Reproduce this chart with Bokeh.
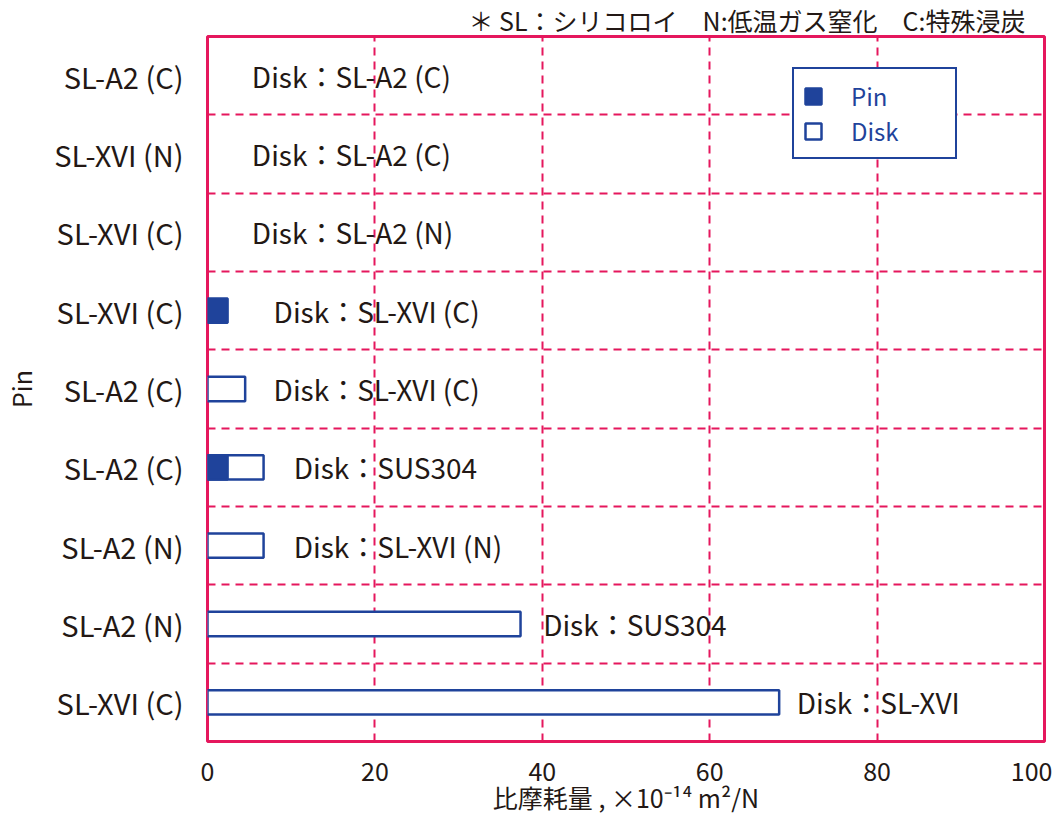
from bokeh.plotting import figure
from bokeh.models import ColumnDataSource, FixedTicker, Legend, LegendItem, Range1d
from bokeh.core.properties import value
from bokeh.embed import file_html
from bokeh.resources import INLINE

# ---- data (bottom row first) ----
pin_labels = ["SL-XVI (C)", "SL-A2 (N)", "SL-A2 (N)", "SL-A2 (C)", "SL-A2 (C)",
              "SL-XVI (C)", "SL-XVI (C)", "SL-XVI (N)", "SL-A2 (C)"]
disk_labels = ["SL-XVI", "SUS304", "SL-XVI (N)", "SUS304", "SL-XVI (C)",
               "SL-XVI (C)", "SL-A2 (N)", "SL-A2 (C)", "SL-A2 (C)"]
pin_wear = [0, 0, 0, 2.4, 0, 2.4, 0, 0, 0]
disk_wear = [68.3, 37.4, 6.7, 6.7, 4.5, 0, 0, 0, 0]
note_x = [70.4, 40.1, 10.3, 10.3, 7.9, 7.9, 5.3, 5.3, 5.3]
x_ticks = [0, 20, 40, 60, 80, 100]
note_text = "＊ SL：シリコロイ　N:低温ガス窒化　C:特殊浸炭"

FONT = "Noto Sans CJK JP"
PINK = "#e5175d"
BLUE = "#1f439b"
INK = "#231815"

W, H = 1052, 817
ML, MR, MT, MB = 206, 8, 36, 76
FW, FH = W - ML - MR, H - MT - MB

rows = list(range(len(pin_labels)))
lab_src = ColumnDataSource(dict(y=rows, lx=note_x, label=["Disk：" + d for d in disk_labels]))
disk_src = ColumnDataSource(dict(y=[r for r in rows if disk_wear[r] > 0],
                                 v=[disk_wear[r] for r in rows if disk_wear[r] > 0]))
pin_src = ColumnDataSource(dict(y=[r for r in rows if pin_wear[r] > 0],
                                v=[pin_wear[r] for r in rows if pin_wear[r] > 0]))

p = figure(width=W, height=H, x_range=Range1d(0, 100), y_range=Range1d(-0.5, 8.5),
           output_backend="svg", toolbar_location=None, title=note_text,
           min_border_left=ML, min_border_right=MR, min_border_top=MT, min_border_bottom=MB)

p.title.align = "right"
p.title.offset = 19
p.title.standoff = -3
p.title.text_font = FONT
p.title.text_font_size = "25px"
p.title.text_font_style = "normal"
p.title.text_color = INK

p.outline_line_color = PINK
p.outline_line_width = 3
p.outline_line_alpha = 1

# grids
p.xgrid.grid_line_color = PINK
p.xgrid.grid_line_width = 2
p.xgrid.grid_line_dash = "8 6"
p.ygrid.ticker = FixedTicker(ticks=[r + 0.5 for r in rows[:-1]])
p.ygrid.grid_line_color = PINK
p.ygrid.grid_line_width = 2
p.ygrid.grid_line_dash = "8 6"

# bars
disk_r = p.hbar(y="y", left=0, right="v", height=0.31, fill_color="white",
                line_color=BLUE, line_width=2.5, source=disk_src)
pin_r = p.hbar(y="y", left=0, right="v", height=0.31, fill_color=BLUE,
               line_color=BLUE, line_width=2.5, source=pin_src)

p.text(x="lx", y="y", text="label", source=lab_src, text_font=value(FONT),
       text_font_size="28px", text_baseline="middle", text_align="left", text_color=INK)

# axes
p.xaxis.ticker = FixedTicker(ticks=x_ticks)
p.xaxis.axis_label = "比摩耗量 , ×10⁻¹⁴ m²/N"
p.yaxis.ticker = FixedTicker(ticks=rows)
p.yaxis.major_label_overrides = {r: pin_labels[r] for r in rows}
p.yaxis.axis_label = "Pin"
for ax in (p.xaxis, p.yaxis):
    ax.axis_line_color = None
    ax.major_tick_line_color = None
    ax.minor_tick_line_color = None
    ax.major_tick_out = 0
    ax.major_tick_in = 0
    ax.major_label_text_font = FONT
    ax.major_label_text_color = INK
    ax.axis_label_text_font = FONT
    ax.axis_label_text_color = INK
    ax.axis_label_text_font_style = "normal"
p.xaxis.major_label_text_font_size = "25px"
p.xaxis.major_label_standoff = 20
p.xaxis.axis_label_text_font_size = "25px"
p.xaxis.axis_label_standoff = -5
p.yaxis.major_label_text_font_size = "29px"
p.yaxis.major_label_standoff = 24
p.yaxis.axis_label_text_font_size = "25px"
p.yaxis.axis_label_standoff = 12

legend = Legend(items=[LegendItem(label="Pin", renderers=[pin_r]),
                       LegendItem(label="Disk", renderers=[disk_r])],
                location=(585, FH - 34 - 89))
legend.border_line_color = BLUE
legend.border_line_width = 2
legend.border_line_alpha = 1
legend.background_fill_color = "white"
legend.background_fill_alpha = 1
legend.label_text_font = FONT
legend.label_text_font_size = "24px"
legend.label_text_color = BLUE
legend.glyph_width = 20
legend.glyph_height = 20
legend.label_height = 20
legend.spacing = 0
legend.padding = 9
legend.margin = 0
legend.label_standoff = 28
legend.label_width = 95
p.add_layout(legend)

open("out.html", "w").write(file_html(p, INLINE))
